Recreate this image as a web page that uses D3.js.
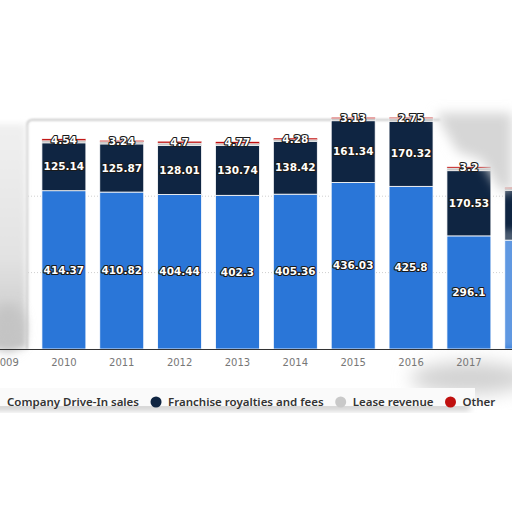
<!DOCTYPE html>
<html><head><meta charset="utf-8">
<script src="https://cdn.jsdelivr.net/npm/d3@7/dist/d3.min.js"></script>
<style>html,body{margin:0;padding:0;background:#fff;overflow:hidden}</style>
</head><body>
<svg id="c" width="512" height="512"></svg>
<script>
const tickLabels = ["2009","2010","2011","2012","2013","2014","2015","2016","2017","2018"];
const years = ["2010","2011","2012","2013","2014","2015","2016","2017","2018"];
const companySales = [414.37,410.82,404.44,402.3,405.36,436.03,425.8,296.1,285];
const franchiseFees = [125.14,125.87,128.01,130.74,138.42,161.34,170.32,170.53,130];
const leaseRevenue = [6.1,6.1,6.7,4.8,4.2,5.8,7.5,7.2,5];
const otherRevenue = [4.54,3.24,4.7,4.77,4.28,3.13,2.75,3.2,3];
const seriesNames = ["Company Drive-In sales","Franchise royalties and fees","Lease revenue","Other"];
const colors = ["#2a76d8","#0f2542","#c9c9c9","#c0100f"];
const yTicks = [200,400,600];

const svg = d3.select("#c");
const defs = svg.append("defs");
[["b1",1.2],["b3",3],["b6",6],["b9",9]].forEach(([id,s])=>{
  defs.append("filter").attr("id",id).attr("x","-50%").attr("y","-50%").attr("width","200%").attr("height","200%")
    .append("feGaussianBlur").attr("stdDeviation",s);
});
const lg = defs.append("linearGradient").attr("id","lgr").attr("x1",0).attr("x2",0).attr("y1",0).attr("y2",1);
lg.append("stop").attr("offset",0).attr("stop-color","#f0f0f0");
lg.append("stop").attr("offset",0.6).attr("stop-color","#e2e2e2");
lg.append("stop").attr("offset",1).attr("stop-color","#c4c4c4");

const x = d3.scaleBand().domain(tickLabels).range([-22.9,555.7]).paddingInner(0.24).paddingOuter(0.12);
const y = d3.scaleLinear().domain([0,600]).range([349,119.8]);

// panel
svg.append("rect").attr("x",28).attr("y",y(600)).attr("width",520).attr("height",y(0)-y(600))
  .attr("rx",5).attr("fill","#fff");
svg.append("path").attr("d",`M27,${y(0)} L27,${y(600)+6} Q27,${y(600)} 33,${y(600)} L440,${y(600)}`)
  .attr("fill","none").attr("stroke","#b8b8b8").attr("stroke-width",1.5).attr("filter","url(#b1)");

// grid
svg.append("g").selectAll("line").data(yTicks.slice(0,2)).join("line")
  .attr("x1",28).attr("x2",512).attr("y1",d=>y(d)).attr("y2",d=>y(d))
  .attr("stroke","#cfcfcf").attr("stroke-dasharray","1,2");

// stacked data
const rows = years.map((yr,i)=>({year:yr, s0:companySales[i], s1:franchiseFees[i], s2:leaseRevenue[i], s3:otherRevenue[i]}));
const stack = d3.stack().keys(["s0","s1","s2","s3"])(rows);
const g = svg.append("g");
stack.forEach((layer,k)=>{
  g.selectAll(null).data(layer).join("rect")
    .attr("x",d=>x(d.data.year)).attr("width",x.bandwidth())
    .attr("y",d=>y(d[1])).attr("height",d=>y(d[0])-y(d[1]))
    .attr("fill",colors[k]).attr("stroke","#fff").attr("stroke-width",k>=2?0.4:0.8);
});

// right smudges (behind labels)
svg.append("path").attr("d","M436,113 L512,113 L512,192 L500,190 L482,160 L458,152 L446,132 Z")
  .attr("fill","#d6d6d6").attr("filter","url(#b6)");
svg.append("rect").attr("x",500).attr("y",230).attr("width",20).attr("height",118)
  .attr("fill","#fff").attr("opacity",0.25).attr("filter","url(#b3)");

// labels
const lab = svg.append("g").attr("font-family","DejaVu Sans, sans-serif").attr("font-weight","bold")
  .attr("font-size",10.5).attr("text-anchor","middle");
[0,1,3].forEach(k=>{
  lab.selectAll(null).data(stack[k]).join("text")
    .attr("x",d=>x(d.data.year)+x.bandwidth()/2)
    .attr("y",d=> k===3 ? y(d[1])+1 : (y(d[0])+y(d[1]))/2)
    .attr("dy","0.35em")
    .attr("fill","#fff").attr("stroke","#1a1a1a").attr("stroke-width",2.2).attr("paint-order","stroke")
    .attr("stroke-linejoin","round")
    .text(d=>d.data["s"+k]);
});

// left smudge
svg.append("rect").attr("x",-10).attr("y",124).attr("width",36).attr("height",224)
  .attr("fill","url(#lgr)").attr("filter","url(#b3)");
svg.append("ellipse").attr("cx",8).attr("cy",328).attr("rx",16).attr("ry",24)
  .attr("fill","#c4c4c4").attr("filter","url(#b6)");
svg.append("line").attr("x1",27).attr("x2",27).attr("y1",y(600)+6).attr("y2",y(0))
  .attr("stroke","#9a9a9a").attr("stroke-width",1).attr("filter","url(#b1)");

// bottom-right smudge
svg.append("ellipse").attr("cx",470).attr("cy",378).attr("rx",60).attr("ry",16)
  .attr("fill","#d2d2d2").attr("filter","url(#b9)");

// axis
const ax = svg.append("g").attr("transform",`translate(0,${y(0)})`)
  .call(d3.axisBottom(x).tickSize(0).tickPadding(10));
ax.select(".domain").attr("stroke","#333").attr("stroke-width",1.2);
ax.selectAll("text").attr("font-family","DejaVu Sans, sans-serif").attr("font-size",10).attr("fill","#777");

// legend shadow
svg.append("rect").attr("x",-10).attr("y",404).attr("width",480).attr("height",6)
  .attr("fill","#c4c4c4").attr("filter","url(#b3)");
svg.append("rect").attr("x",-10).attr("y",388).attr("width",485).attr("height",18).attr("fill","#fafafa");

// legend
const leg = svg.append("g").attr("font-family","Noto Sans, sans-serif").attr("font-weight","600").attr("font-size",11.5).attr("fill","#333");
let cx = 7;
seriesNames.forEach((n,i)=>{
  if(i>0){
    leg.append("circle").attr("cx",cx+5).attr("cy",402).attr("r",5.5).attr("fill",colors[i]);
    cx += 17;
  }
  const t = leg.append("text").attr("x",cx).attr("y",402).attr("dy","0.35em").text(n);
  cx += t.node().getComputedTextLength() + 12;
});
</script>
</body></html>
